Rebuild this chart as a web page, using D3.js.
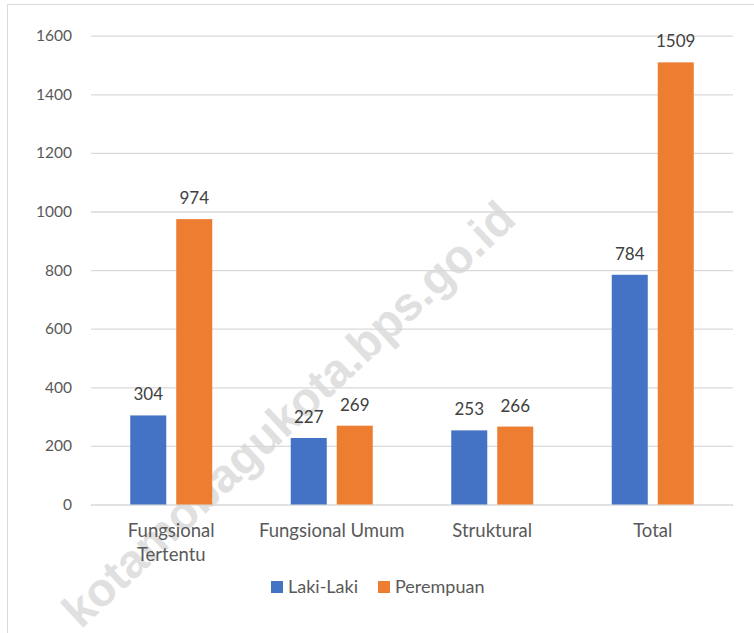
<!DOCTYPE html>
<html lang="id">
<head>
  <meta charset="UTF-8">
  <title>Pegawai menurut jabatan dan jenis kelamin</title>
  <script src="https://d3js.org/d3.v7.min.js"></script>
  <style>
    body {
      margin: 0;
      background: #ffffff;
      font-family: Lato, 'Open Sans', sans-serif;
    }
    svg { display: block; }
  </style>
</head>
<body>
  <svg id="chart" width="754" height="633"></svg>

  <script>
    // data
    const categories = ["Fungsional Tertentu", "Fungsional Umum", "Struktural", "Total"];
    const seriesNames = ["Laki-Laki", "Perempuan"];
    const lakiLaki = [304, 227, 253, 784];
    const perempuan = [974, 269, 266, 1509];
    const yTicks = [0, 200, 400, 600, 800, 1000, 1200, 1400, 1600];
    const colors = ["#4472C4", "#ED7D31"];

    const rows = categories.map((c, i) => ({ cat: c, values: [lakiLaki[i], perempuan[i]] }));

    const svg = d3.select("#chart");
    const plotLeft = 91, plotRight = 733, plotTop = 35.7, plotBottom = 504.5;

    // outer frame
    svg.append("rect")
      .attr("x", 7.5).attr("y", 4.5)
      .attr("width", 760).attr("height", 640)
      .attr("fill", "#fff")
      .attr("stroke", "#d9d9d9");

    const y = d3.scaleLinear().domain([0, 1600]).range([plotBottom, plotTop]);
    const x0 = d3.scaleBand().domain(categories).range([plotLeft, plotRight])
      .paddingInner(0.489).paddingOuter(0.2445);
    const x1 = d3.scaleBand().domain(seriesNames).range([0, x0.bandwidth()])
      .paddingInner(0.217);

    // y axis with gridlines
    const yAxis = svg.append("g")
      .attr("transform", `translate(${plotLeft},0)`)
      .call(d3.axisLeft(y).tickValues(yTicks).tickFormat(d3.format("d"))
        .tickSize(-(plotRight - plotLeft)).tickPadding(19));
    yAxis.select(".domain").remove();
    yAxis.selectAll(".tick line").attr("stroke", "#d9d9d9").attr("stroke-width", 1.3);
    yAxis.selectAll(".tick text")
      .attr("fill", "#595959")
      .style("font-family", "Lato, sans-serif")
      .style("font-size", "15.5px");

    // watermark
    svg.append("text")
      .attr("transform", "translate(518,222) rotate(-43)")
      .attr("text-anchor", "end")
      .attr("fill", "#d6d6d6")
      .attr("opacity", 0.75)
      .style("font-family", "'Liberation Sans', Arial, sans-serif")
      .style("font-weight", "bold")
      .style("font-size", "47px")
      .text("kotamobagukota.bps.go.id");

    // bars
    const groups = svg.append("g")
      .selectAll("g")
      .data(rows)
      .join("g")
      .attr("transform", d => `translate(${x0(d.cat)},0)`);

    const cells = groups.selectAll("g")
      .data(d => d.values.map((v, i) => ({ name: seriesNames[i], v, i })))
      .join("g");

    cells.append("rect")
      .attr("x", d => x1(d.name))
      .attr("y", d => y(d.v))
      .attr("width", x1.bandwidth())
      .attr("height", d => y(0) - y(d.v))
      .attr("fill", d => colors[d.i]);

    cells.append("text")
      .attr("x", d => x1(d.name) + x1.bandwidth() / 2)
      .attr("y", d => y(d.v) - 15)
      .attr("text-anchor", "middle")
      .attr("fill", "#404040")
      .style("font-size", "17px")
      .text(d => d.v);

    // category labels (wrapped like the original)
    const xAxis = svg.append("g")
      .attr("transform", `translate(0,${plotBottom})`)
      .call(d3.axisBottom(x0).tickSize(0).tickFormat(""));
    xAxis.select(".domain").remove();
    xAxis.selectAll(".tick").each(function (d) {
      const lines = d === "Fungsional Tertentu" ? ["Fungsional", "Tertentu"] : [d];
      const t = d3.select(this).append("text")
        .attr("text-anchor", "middle")
        .attr("fill", "#595959")
        .style("font-family", "Lato, sans-serif")
        .style("font-size", "18.5px");
      lines.forEach((l, k) => {
        t.append("tspan").attr("x", 0).attr("y", 32 + k * 24).text(l);
      });
    });

    // legend
    const legend = svg.append("g").attr("transform", "translate(271,581)");
    const legendX = [0, 107];
    seriesNames.forEach((name, i) => {
      const g = legend.append("g").attr("transform", `translate(${legendX[i]},0)`);
      g.append("rect").attr("width", 12).attr("height", 12).attr("fill", colors[i]);
      g.append("text")
        .attr("x", 17).attr("y", 12)
        .attr("fill", "#595959")
        .style("font-size", "18px")
        .text(name);
    });
  </script>
</body>
</html>
